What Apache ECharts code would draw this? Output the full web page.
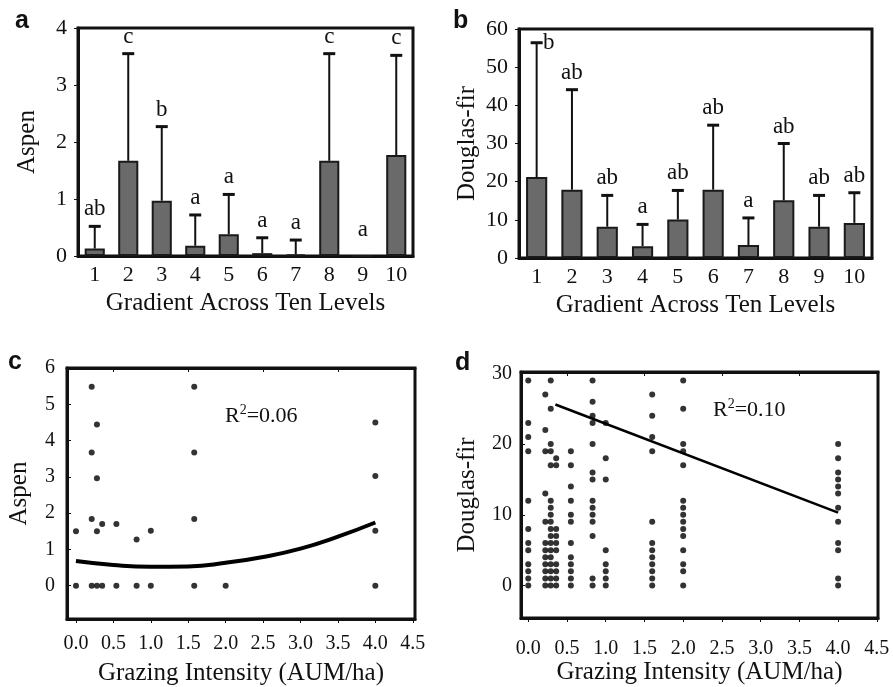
<!DOCTYPE html>
<html>
<head>
<meta charset="utf-8">
<script src="https://cdn.jsdelivr.net/npm/echarts@6/dist/echarts.min.js"></script>
<style>
  html, body { margin: 0; padding: 0; background: #fff; }
  #chart { width: 893px; height: 687px; }
</style>
</head>
<body>
<div id="chart"></div>
<script>
// ---- Panel a/b: means, upper error limits and letter groups per gradient level ----
const levels = ['1', '2', '3', '4', '5', '6', '7', '8', '9', '10'];
const aspenMean = [0.13, 1.67, 0.97, 0.18, 0.38, 0.05, 0.03, 1.67, 0, 1.77];
const aspenUpper = [0.52, 3.55, 2.27, 0.72, 1.08, 0.32, 0.28, 3.55, null, 3.52];
const aspenLetters = ['ab', 'c', 'b', 'a', 'a', 'a', 'a', 'c', 'a', 'c'];
const firMean = [21.2, 17.9, 8.2, 3.1, 10.1, 17.9, 3.4, 15.1, 8.2, 9.2];
const firUpper = [56.4, 44.1, 16.4, 8.8, 17.7, 34.8, 10.5, 30.0, 16.4, 17.1];
const firLetters = ['b', 'ab', 'ab', 'a', 'ab', 'ab', 'a', 'ab', 'ab', 'ab'];

// ---- Panel c: aspen counts by grazing intensity (one list per site intensity) ----
const grazingTicks = [0, 0.5, 1, 1.5, 2, 2.5, 3, 3.5, 4, 4.5];
const aspenSiteGrazing = [0, 0.21, 0.28, 0.35, 0.54, 0.81, 1.0, 1.58, 2.0, 4.0];
const aspenSiteValues = [
  [1.5, 0],
  [5.48, 3.67, 1.84, 0],
  [4.44, 2.96, 1.5, 0],
  [1.7, 0],
  [1.7, 0],
  [1.27, 0],
  [1.51, 0],
  [5.48, 3.67, 1.84, 0],
  [0],
  [4.5, 3.02, 1.51, 0]
];
const aspenFitX = [0, 0.5, 1.0, 1.5, 2.0, 2.5, 3.0, 3.5, 4.0];
const aspenFitY = [0.68, 0.57, 0.52, 0.53, 0.63, 0.79, 1.02, 1.35, 1.74];

// ---- Panel d: Douglas-fir counts by grazing intensity ----
const firSiteGrazing = [0, 0.22, 0.29, 0.36, 0.55, 0.83, 1.0, 1.6, 2.0, 4.0];
const firSiteValues = [
  [29, 23, 21, 19, 12, 8, 6, 5, 3, 2, 1, 0],
  [27, 22, 19, 13, 9, 6, 5, 4, 3, 2, 1, 0],
  [29, 25, 20, 19, 17, 12, 11, 10, 9, 8, 7, 6, 5, 4, 3, 2, 1, 0],
  [18, 17, 8, 7, 6, 5, 3, 2, 1, 0],
  [19, 17, 14, 12, 10, 9, 6, 4, 3, 2, 1, 0],
  [29, 26, 24, 23, 20, 16, 15, 12, 11, 10, 9, 7, 1, 0],
  [23, 18, 15, 5, 3, 2, 1, 0],
  [27, 24, 21, 19, 9, 6, 5, 4, 3, 2, 1, 0],
  [29, 25, 20, 19, 17, 12, 11, 10, 9, 8, 7, 5, 3, 2, 0],
  [20, 18, 16, 15, 14, 13, 11, 9, 6, 5, 1, 0]
];
const firFitX = [0.35, 4.0];
const firFitY = [25.6, 10.3];

const SERIF = '"Liberation Serif", "Times New Roman", serif';
const SANS = '"Liberation Sans", Arial, sans-serif';
const INK = '#111';

function flatten(xs, lists) {
  const out = [];
  xs.forEach((x, i) => lists[i].forEach(v => out.push([x, v])));
  return out;
}

// Error bar (upward only) with a cap, plus the letter group above it
function errorBars(letters) {
  return function (params, api) {
    const i = params.dataIndex;
    const base = api.coord([api.value(0), api.value(1)]);
    const upper = api.value(2);
    const children = [];
    let lx = base[0];
    let ly;
    if (upper != null && !isNaN(upper)) {
      const top = api.coord([api.value(0), upper]);
      children.push({
        type: 'line',
        shape: { x1: base[0], y1: base[1], x2: top[0], y2: top[1] },
        style: { stroke: INK, lineWidth: 2 }
      });
      children.push({
        type: 'line',
        shape: { x1: top[0] - 6, y1: top[1], x2: top[0] + 6, y2: top[1] },
        style: { stroke: INK, lineWidth: 3 }
      });
      ly = top[1] - 17;
      if (ly < params.coordSys.y + 8) {
        lx = top[0] + 12;
        ly = top[1];
      }
    } else {
      ly = base[1] - 26;
    }
    children.push({
      type: 'text',
      style: {
        text: letters[i], x: lx, y: ly, align: 'center', verticalAlign: 'middle',
        fontSize: 23, fontFamily: SERIF, fill: INK
      }
    });
    return { type: 'group', children };
  };
}

const topTick = { fontFamily: SERIF, fontSize: 22, color: INK };
const lowTick = { fontFamily: SERIF, fontSize: 20, color: INK };
const nameText = { fontFamily: SERIF, fontSize: 25, color: INK };
const frame = { show: true, borderColor: INK, borderWidth: 3, backgroundColor: 'transparent' };
const boldLine = { show: true, onZero: false, lineStyle: { color: INK, width: 3 } };

function catAxis(grid) {
  return {
    gridIndex: grid, type: 'category', data: levels,
    axisLine: boldLine, axisTick: { show: false },
    axisLabel: Object.assign({ margin: 8 }, topTick),
    name: 'Gradient Across Ten Levels', nameLocation: 'middle', nameGap: 35,
    nameTextStyle: nameText
  };
}

function grazingAxis(grid, min, max, labelMargin, nameGap) {
  return {
    gridIndex: grid, type: 'value', min: min, max: max,
    axisLine: boldLine, splitLine: { show: false },
    axisTick: { show: true, inside: false, length: 4, customValues: grazingTicks, lineStyle: { color: INK } },
    axisLabel: Object.assign({ margin: labelMargin, customValues: grazingTicks, formatter: v => v.toFixed(1) }, lowTick),
    name: 'Grazing Intensity (AUM/ha)', nameLocation: 'middle', nameGap: nameGap,
    nameTextStyle: nameText
  };
}

function topAxis(grid, min, max) {
  return {
    gridIndex: grid, type: 'value', position: 'top', min: min, max: max,
    axisLine: boldLine, splitLine: { show: false }, axisLabel: { show: false },
    axisTick: { show: true, inside: true, length: 4, customValues: [0.5, 1.5, 2.5, 3.5], lineStyle: { color: INK } }
  };
}

const aspenPoints = flatten(aspenSiteGrazing, aspenSiteValues);
const firPoints = flatten(firSiteGrazing, firSiteValues);

function rSquared(text, x, y) {
  return {
    type: 'text', x: x, y: y,
    style: {
      text: '{r|R}{s|2}{r|' + text + '}', verticalAlign: 'bottom',
      rich: {
        r: { fontFamily: SERIF, fontSize: 22, fill: INK, verticalAlign: 'bottom', lineHeight: 24 },
        s: { fontFamily: SERIF, fontSize: 14, fill: INK, verticalAlign: 'top', lineHeight: 14 }
      }
    }
  };
}

function panelTag(letter, x, y) {
  return { type: 'text', x: x, y: y, style: { text: letter, font: 'bold 25px ' + SANS, fill: INK, verticalAlign: 'middle' } };
}

const option = {
  animation: false,
  backgroundColor: '#fff',
  grid: [
    Object.assign({ left: 78, top: 28, width: 335, height: 228 }, frame),
    Object.assign({ left: 519, top: 29, width: 353, height: 229 }, frame),
    Object.assign({ left: 67, top: 368, width: 348, height: 256 }, frame),
    Object.assign({ left: 521, top: 372, width: 357, height: 246 }, frame)
  ],
  xAxis: [
    catAxis(0),
    catAxis(1),
    grazingAxis(2, -0.12, 4.53, 15, 42),
    grazingAxis(3, -0.094, 4.515, 21, 41),
    topAxis(2, -0.12, 4.53),
    topAxis(3, -0.094, 4.515)
  ],
  yAxis: [
    {
      gridIndex: 0, type: 'value', min: 0, max: 4, interval: 1,
      axisLine: boldLine, splitLine: { show: false },
      axisTick: { show: true, length: 4, lineStyle: { color: INK } },
      axisLabel: Object.assign({ margin: 11 }, topTick),
      name: 'Aspen', nameLocation: 'middle', nameGap: 38, nameTextStyle: nameText
    },
    {
      gridIndex: 1, type: 'value', min: 0, max: 60, interval: 10,
      axisLine: boldLine, splitLine: { show: false },
      axisTick: { show: true, length: 4, lineStyle: { color: INK } },
      axisLabel: Object.assign({ margin: 11 }, topTick),
      name: 'Douglas-fir', nameLocation: 'middle', nameGap: 39, nameTextStyle: nameText
    },
    {
      gridIndex: 2, type: 'value', min: -0.92, max: 6,
      axisLine: boldLine, splitLine: { show: false },
      axisTick: { show: true, inside: true, length: 4, customValues: [0, 1, 2, 3, 4, 5, 6], lineStyle: { color: INK } },
      axisLabel: Object.assign({ margin: 12, customValues: [0, 1, 2, 3, 4, 5, 6] }, lowTick),
      name: 'Aspen', nameLocation: 'middle', nameGap: 35, nameTextStyle: nameText
    },
    {
      gridIndex: 3, type: 'value', min: -4.6, max: 30.2,
      axisLine: boldLine, splitLine: { show: false },
      axisTick: { show: true, inside: true, length: 4, customValues: [0, 10, 20, 30], lineStyle: { color: INK } },
      axisLabel: Object.assign({ margin: 9, customValues: [0, 10, 20, 30] }, lowTick),
      name: 'Douglas-fir', nameLocation: 'middle', nameGap: 41, nameTextStyle: nameText
    }
  ],
  series: [
    {
      type: 'bar', xAxisIndex: 0, yAxisIndex: 0, data: aspenMean, barWidth: '60%',
      itemStyle: { color: '#6a6a6a', borderColor: '#1a1a1a', borderWidth: 2 }
    },
    {
      type: 'custom', xAxisIndex: 0, yAxisIndex: 0, z: 5,
      data: levels.map((_, i) => [i, aspenMean[i], aspenUpper[i] == null ? NaN : aspenUpper[i]]),
      renderItem: errorBars(aspenLetters)
    },
    {
      type: 'bar', xAxisIndex: 1, yAxisIndex: 1, data: firMean, barWidth: '60%',
      itemStyle: { color: '#6a6a6a', borderColor: '#1a1a1a', borderWidth: 2 }
    },
    {
      type: 'custom', xAxisIndex: 1, yAxisIndex: 1, z: 5,
      data: levels.map((_, i) => [i, firMean[i], firUpper[i]]),
      renderItem: errorBars(firLetters)
    },
    {
      type: 'scatter', xAxisIndex: 2, yAxisIndex: 2, data: aspenPoints,
      symbolSize: 6, itemStyle: { color: '#000' }
    },
    {
      type: 'line', xAxisIndex: 2, yAxisIndex: 2, smooth: true, showSymbol: false,
      data: aspenFitX.map((x, i) => [x, aspenFitY[i]]),
      lineStyle: { color: '#000', width: 4 }
    },
    {
      type: 'scatter', xAxisIndex: 3, yAxisIndex: 3, data: firPoints,
      symbolSize: 6, itemStyle: { color: '#000' }
    },
    {
      type: 'line', xAxisIndex: 3, yAxisIndex: 3, showSymbol: false,
      data: firFitX.map((x, i) => [x, firFitY[i]]),
      lineStyle: { color: '#000', width: 2.5 }
    }
  ],
  graphic: [
    panelTag('a', 15, 21),
    panelTag('b', 453, 21),
    panelTag('c', 8, 362),
    panelTag('d', 455, 363),
    rSquared('=0.06', 225, 427),
    rSquared('=0.10', 713, 421)
  ]
};

const chart = echarts.init(document.getElementById('chart'), null, { renderer: 'canvas' });
chart.setOption(option);
</script>
</body>
</html>
